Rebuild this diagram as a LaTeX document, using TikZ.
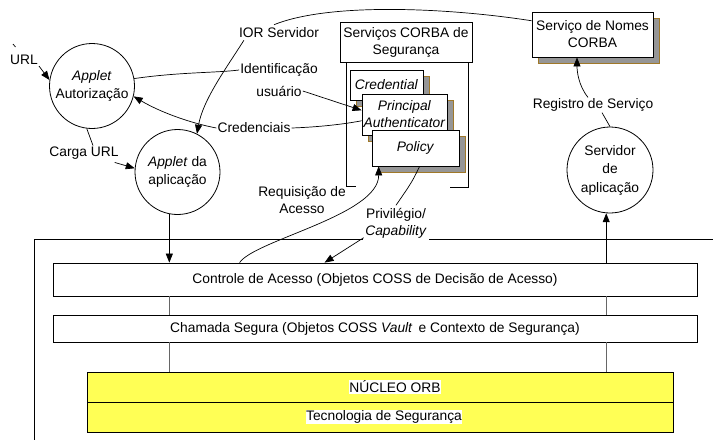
\documentclass[tikz,border=0pt]{standalone}
\usepackage{fontspec}
\setmainfont{Liberation Sans}
\usetikzlibrary{arrows.meta,calc,shadows}
\definecolor{shadowgray}{RGB}{150,150,150}
\definecolor{shadowedge}{RGB}{160,120,40}
\definecolor{orbyellow}{RGB}{255,255,85}
\begin{document}
\begin{tikzpicture}[x=1pt,y=1pt,
  font=\fontsize{13.8}{17}\selectfont,
  arr/.style={-{Triangle[length=9pt,width=7pt]}, line width=0.7pt},
  ln/.style={line width=0.7pt},
  gline/.style={line width=0.8pt, draw=black!60},
  circ/.style={circle, draw, line width=0.8pt, inner sep=0pt, align=center, font=\fontsize{13.8}{18.5}\selectfont},
  box/.style={draw, fill=white, line width=0.8pt, align=center, inner sep=0pt},
  shbox/.style={box, drop shadow={shadow xshift=6pt, shadow yshift=-6pt, fill=shadowgray, draw=shadowedge, line width=0.6pt, opacity=1}},
  lbl/.style={inner sep=1pt, align=center},
]
\useasboundingbox (0,0) rectangle (713,-440);

% frame of the lower part
\coordinate (frameTL) at (34,-239);
\coordinate (frameR) at (713,-239);
\coordinate (frameB) at (34,-440);
\draw[ln] (frameR) -- (frameTL) -- (frameB);

% circles
\node[circ, minimum size=85pt] (appAuth) at (92,-86) {\textit{Applet}\\Autorização};
\node[circ, minimum size=85pt] (appApp) at (177.5,-172) {\textit{Applet} da\\aplicação};
\node[circ, minimum size=86pt] (servApp) at (610,-170) {Servidor\\de\\aplicação};

% top boxes
\node[shbox, minimum width=121pt, minimum height=45pt] (nomes) at (592.5,-34.5) {Serviço de Nomes\\CORBA};
\node[box, minimum width=132pt, minimum height=40pt] (seg) at (406,-42) {Serviços CORBA de\\Segurança};
\coordinate (brTL) at (346,-62);
\coordinate (brBL) at (346,-186);
\coordinate (brBLe) at (356,-186);
\coordinate (brTR) at (468,-62);
\coordinate (brBR) at (468,-187);
\coordinate (brBRe) at (450,-187);
\draw[ln] (brTL) -- (brBL) -- (brBLe);
\draw[ln] (brTR) -- (brBR) -- (brBRe);
\node[shbox, minimum width=73pt, minimum height=30pt] (cred) at (386.5,-85) {\textit{Credential}};
\node[shbox, minimum width=85pt, minimum height=41pt] (princ) at (404.5,-114.5) {\textit{Principal}\\\textit{Authenticator}};
\node[shbox, minimum width=87pt, minimum height=36pt] (policy) at (415.5,-148) {\textit{Policy}};

% layers
\node[box, minimum width=644pt, minimum height=33pt] (controle) at (375,-279.5) {Controle de Acesso (Objetos COSS de Decisão de Acesso)};
\node[box, minimum width=644pt, minimum height=27pt] (chamada) at (375,-328.5) {Chamada Segura (Objetos COSS \textit{Vault}\, e Contexto de Segurança)};
\node[box, fill=orbyellow, minimum width=586pt, minimum height=30pt] (nucleo) at (380,-387) {};
\node[box, fill=orbyellow, minimum width=586pt, minimum height=30pt] (tecno) at (380,-417) {};
\node[fill=white, inner sep=0.6pt] (nucleoT) at (395,-387) {NÚCLEO ORB};
\node[fill=white, inner sep=0.6pt] (tecnoT) at (384,-417) {Tecnologia de Segurança};

% vertical connectors
\draw[arr] (appApp.259) -- (appApp.259 |- controle.north);
\draw[gline] (appApp.259 |- controle.south) -- (appApp.259 |- chamada.north);
\draw[gline] (appApp.259 |- chamada.south) -- (appApp.259 |- nucleo.north);
\draw[arr] (servApp.265 |- controle.north) -- (servApp.265);
\draw[gline] (servApp.265 |- chamada.north) -- (servApp.265 |- controle.south);
\draw[gline] (servApp.265 |- nucleo.north) -- (servApp.265 |- chamada.south);

% labels
\node[lbl] (url) at (24,-60) {URL};
\coordinate (urltick) at (13,-44);
\node[lbl] (identA) at (279,-70) {Identificação};
\node[lbl] (identB) at (279,-91) {usuário};
\node[lbl] (credlbl) at (254,-128) {Credenciais};
\node[lbl] (ior) at (279,-33) {IOR Servidor};
\node[lbl] (req) at (302,-200) {Requisição de\\Acesso};
\node[lbl] (reg) at (593,-105) {Registro de Serviço};
\node[lbl] (carga) at (84,-153) {Carga URL};

% connectors
\draw[ln] (urltick) -- ++(2.5,-3);
\draw[arr] (url.south east) -- (appAuth.172);
\draw[ln] (appAuth.10) .. controls (180,-72) and (215,-73) .. (identA.west);
\draw[arr] (identB.east) -- ($(princ.north west)!0.4!(princ.south west)$);
\draw[ln] (credlbl.east) .. controls (320,-127) and (345,-124) .. ($(princ.north west)!0.65!(princ.south west)$);
\draw[arr] (credlbl.west) .. controls (190,-123) and (160,-112) .. (appAuth.-14);
\draw[ln] ($(nomes.north west)!0.2!(nomes.south west)$) .. controls (450,-8) and (330,-2) .. ($(ior.north)+(-5,2)$);
\draw[arr] ($(ior.south west)+(6,-1)$) .. controls (225,-70) and (203,-100) .. (appApp.63);
\draw[arr] ($(controle.north west)+(187,0)$) .. controls (255,-240) and (379,-215) .. ($(policy.south west)+(7,0)$);
\draw[ln] (servApp.north) -- ($(reg.south)+(9,0)$);
\draw[arr] ($(reg.north)+(-5,0)$) .. controls (578,-85) and (577,-70) .. ($(nomes.south)+(-15.5,0)$);
\draw[ln] (appAuth.-97) -- ($(carga.north)+(9,0)$);
\draw[arr] ($(carga.south east)+(-5,-2)$) -- (appApp.175);

% privilege label (covers the frame line)
\node[lbl, fill=white, inner sep=2.5pt] (priv) at (396,-223) {Privilégio/\\\textit{Capability}};
\draw[ln] ($(policy.south west)+(48,0)$) .. controls (412,-182) .. (priv.north);
\draw[arr] ($(priv.south west)+(1,3)$) -- ($(controle.north west)+(272,0)$);
\end{tikzpicture}
\end{document}
